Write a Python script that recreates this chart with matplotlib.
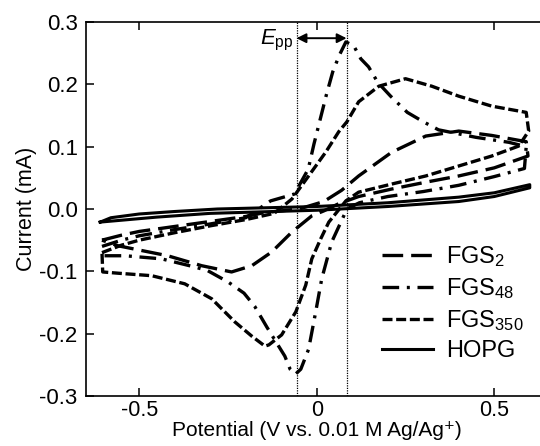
import numpy as np
import matplotlib
matplotlib.use("Agg")
import matplotlib.pyplot as plt

plt.rcParams['font.family'] = ['Liberation Sans', 'DejaVu Sans']
plt.rcParams['mathtext.fontset'] = 'custom'
plt.rcParams['mathtext.rm'] = 'Liberation Sans'
plt.rcParams['mathtext.it'] = 'Liberation Sans:italic'
plt.rcParams['axes.unicode_minus'] = False

# FGS2 (long dash): forward then reverse scan
fgs2_x = [-0.605, -0.55, -0.5, -0.4, -0.3, -0.2, -0.15, -0.05, 0.02, 0.07, 0.118, 0.211, 0.307, 0.4, 0.493, 0.59,
          0.595, 0.5, 0.4, 0.307, 0.211, 0.118, 0.06, 0.02, -0.014, -0.07, -0.127, -0.183, -0.24, -0.324, -0.42, -0.56, -0.605]
fgs2_y = [-0.05, -0.042, -0.036, -0.028, -0.02, -0.012, -0.006, 0.0, 0.012, 0.03, 0.053, 0.091, 0.117, 0.125, 0.118, 0.108,
          0.085, 0.066, 0.053, 0.043, 0.032, 0.02, 0.008, -0.003, -0.011, -0.037, -0.069, -0.091, -0.101, -0.091, -0.075, -0.059, -0.05]

# FGS48 (dash-dot)
fgs48_x = [-0.605, -0.55, -0.5, -0.4, -0.3, -0.2, -0.13, -0.063, -0.024, -0.008, 0.027, 0.045, 0.063, 0.082,
           0.104, 0.124, 0.146, 0.172, 0.208, 0.255, 0.3, 0.343, 0.448, 0.541, 0.59,
           0.585, 0.5, 0.4, 0.3, 0.2, 0.12, 0.085, 0.068, 0.042, 0.014, -0.003, -0.023, -0.045, -0.06, -0.075,
           -0.09, -0.14, -0.175, -0.205, -0.25, -0.307, -0.344, -0.437, -0.54, -0.605]
fgs48_y = [-0.06, -0.05, -0.043, -0.033, -0.024, -0.014, 0.013, 0.024, 0.064, 0.104, 0.183, 0.22, 0.246, 0.268,
           0.262, 0.241, 0.228, 0.203, 0.181, 0.155, 0.14, 0.127, 0.115, 0.107, 0.1,
           0.065, 0.052, 0.038, 0.028, 0.02, 0.01, 0.0, -0.021, -0.053, -0.112, -0.165, -0.225, -0.257, -0.265, -0.257,
           -0.236, -0.19, -0.156, -0.135, -0.117, -0.099, -0.093, -0.08, -0.075, -0.075]

# FGS350 (short dash)
fgs350_x = [-0.605, -0.55, -0.5, -0.4, -0.3, -0.2, -0.12, -0.07, -0.023, 0.025, 0.062, 0.085, 0.118, 0.175, 0.25,
            0.324, 0.4, 0.493, 0.59, 0.597,
            0.569, 0.493, 0.4, 0.307, 0.211, 0.118, 0.082, 0.034, 0.011, -0.014, -0.031, -0.059, -0.099, -0.135,
            -0.146, -0.183, -0.231, -0.296, -0.372, -0.465, -0.56, -0.603, -0.605]
fgs350_y = [-0.07, -0.058, -0.05, -0.038, -0.027, -0.017, -0.007, 0.016, 0.053, 0.091, 0.124, 0.14, 0.172, 0.197, 0.209,
            0.197, 0.181, 0.165, 0.155, 0.125,
            0.101, 0.085, 0.069, 0.053, 0.04, 0.027, 0.013, -0.021, -0.048, -0.08, -0.122, -0.165, -0.202, -0.218,
            -0.22, -0.204, -0.181, -0.144, -0.12, -0.107, -0.103, -0.101, -0.07]

# HOPG (solid)
hopg_x = [-0.61, -0.58, -0.5, -0.4, -0.28, 0.0, 0.2, 0.4, 0.5, 0.6,
          0.6, 0.5, 0.4, 0.2, 0.0, -0.3, -0.45, -0.55, -0.61]
hopg_y = [-0.021, -0.014, -0.008, -0.004, 0.0, 0.004, 0.01, 0.019, 0.026, 0.039,
          0.034, 0.02, 0.012, 0.004, -0.002, -0.007, -0.013, -0.018, -0.021]

peak_ox = 0.084
peak_red = -0.057
arrow_y = 0.274

fig = plt.figure(figsize=(5.4, 4.46), dpi=100)
ax = fig.add_axes([0.1593, 0.1121, 0.8546, 0.8386])

lw = 2.4
ax.plot(fgs2_x, fgs2_y, color='black', lw=lw, dashes=(6.2, 2.4), label='FGS$_2$')
ax.plot(fgs48_x, fgs48_y, color='black', lw=lw, dashes=(5.0, 2.3, 0.9, 2.3), label='FGS$_{48}$')
ax.plot(fgs350_x, fgs350_y, color='black', lw=lw, dashes=(3.0, 1.1), label='FGS$_{350}$')
ax.plot(hopg_x, hopg_y, color='black', lw=2.2, label='HOPG')

ax.axvline(peak_red, color='black', lw=0.9, ls=(0, (1, 1)))
ax.axvline(peak_ox, color='black', lw=0.9, ls=(0, (1, 1)))
ax.annotate('', xy=(peak_red, arrow_y), xytext=(peak_ox, arrow_y),
            arrowprops=dict(arrowstyle='<|-|>', color='black', lw=1.4, mutation_scale=14,
                            shrinkA=0, shrinkB=0))
ax.text(peak_red - 0.008, arrow_y - 0.004, r'$\mathit{E}_{\mathrm{pp}}$', ha='right', va='center', fontsize=16)

ax.set_xlim(-0.65, 0.65)
ax.set_ylim(-0.3, 0.3)
ax.set_xticks([-0.5, 0, 0.5])
ax.set_xticklabels(['-0.5', '0', '0.5'])
ax.set_yticks([-0.3, -0.2, -0.1, 0.0, 0.1, 0.2, 0.3])
ax.set_yticklabels(['-0.3', '-0.2', '-0.1', '0.0', '0.1', '0.2', '0.3'])
ax.tick_params(direction='in', length=6, width=1.1, labelsize=16, top=True, right=True, pad=6)
ax.tick_params(axis='x', pad=3, labelsize=15.5)
for s in ax.spines.values():
    s.set_linewidth(1.2)

ax.set_xlabel('Potential (V vs. 0.01 M Ag/Ag\u207a)', fontsize=15, labelpad=0)
ax.set_ylabel('Current (mA)', fontsize=15.5, labelpad=2)

ax.legend(loc='upper left', bbox_to_anchor=(0.5955, 0.4626), frameon=False, fontsize=17,
          handlelength=2.15, handletextpad=0.55, labelspacing=0.3)

fig.savefig('out.png', dpi=100)
